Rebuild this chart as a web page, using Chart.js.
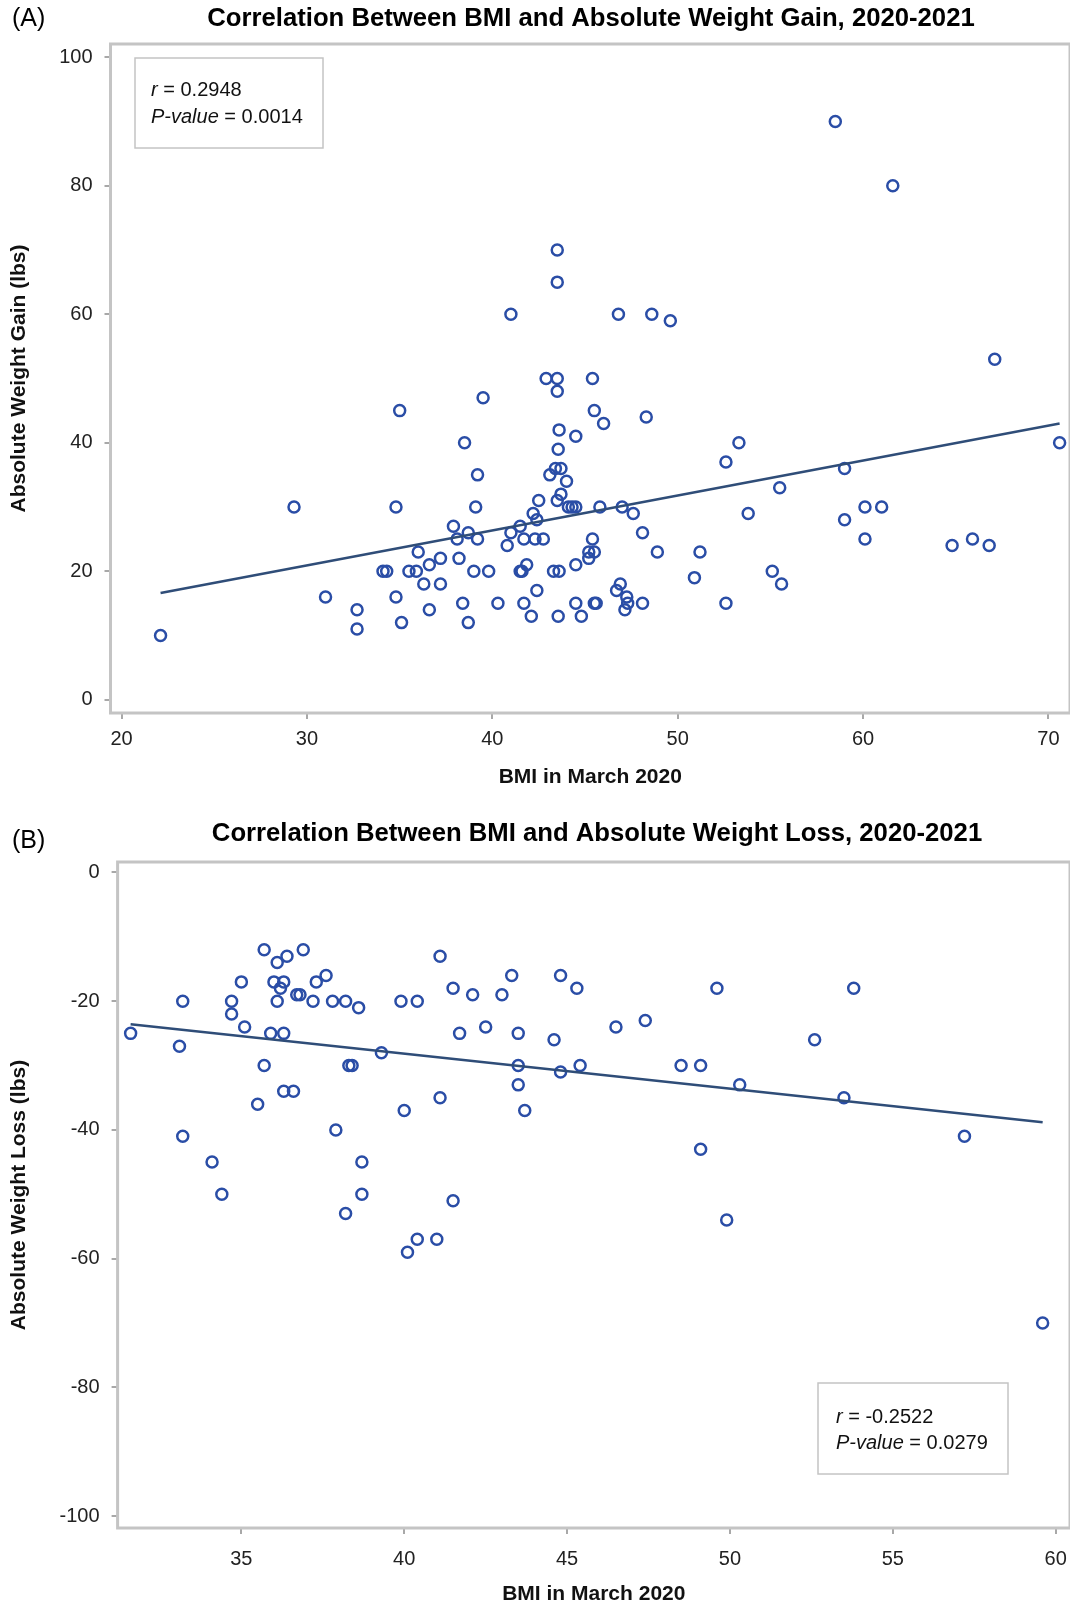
<!DOCTYPE html>
<html>
<head>
<meta charset="utf-8">
<title>BMI and absolute weight change, 2020-2021</title>
<script src="https://cdn.jsdelivr.net/npm/chart.js@4.4.1/dist/chart.umd.min.js"></script>
<style>
  html, body { margin: 0; padding: 0; background: #fff; }
  canvas { display: block; }
</style>
</head>
<body>
<canvas id="chartA" width="1070" height="800"></canvas>
<canvas id="chartB" width="1070" height="804"></canvas>
<script>
// (A) BMI vs absolute weight gain
const bmiA = [
  22.1, 29.3, 31.0, 32.7, 32.7, 34.1, 34.3, 35.0, 34.8, 34.8,
  35.1, 35.5, 36.0, 35.9, 36.3, 36.6, 36.6, 37.2, 37.2, 37.9,
  38.1, 38.2, 38.5, 38.7, 38.4, 38.7, 39.0, 39.1, 39.2, 39.2,
  39.5, 39.8, 40.3, 40.8, 41.0, 41.0, 41.5, 41.5, 41.6, 41.7,
  41.7, 41.85, 42.1, 42.2, 42.4, 42.3, 42.5, 42.4, 42.75, 42.9,
  43.1, 43.3, 43.5, 43.5, 43.4, 43.5, 43.5, 43.6, 43.55, 43.5,
  43.6, 43.55, 43.7, 43.7, 44.0, 44.1, 44.3, 44.5, 44.5, 44.5,
  44.5, 44.8, 45.2, 45.2, 45.5, 45.4, 45.4, 45.5, 45.5, 45.6,
  45.8, 46.0, 46.7, 46.8, 46.9, 47.0, 47.25, 47.15, 47.3, 47.6,
  48.1, 48.1, 48.3, 48.6, 48.9, 49.6, 50.9, 51.2, 52.6, 52.6,
  53.3, 53.8, 55.1, 55.5, 55.6, 58.5, 59.0, 59.0, 60.1, 60.1,
  61.0, 61.6, 64.8, 65.9, 66.8, 67.1, 70.6
];
const gainA = [
  10, 30, 16, 14, 11, 20, 20, 45, 30, 16,
  12, 20, 23, 20, 18, 21, 14, 22, 18, 27,
  25, 22, 40, 26, 15, 12, 20, 30, 35, 25,
  47, 20, 15, 24, 26, 60, 27, 20, 20, 25,
  15, 21, 13, 29, 28, 25, 31, 17, 25, 50,
  35, 20, 65, 70, 36, 50, 48, 42, 39, 31,
  20, 13, 32, 36, 34, 30, 30, 30, 41, 21,
  15, 13, 22, 23, 23, 25, 50, 45, 15, 15,
  30, 43, 17, 60, 18, 30, 16, 14, 15, 29,
  26, 15, 44, 60, 23, 59, 19, 23, 37, 15,
  40, 29, 20, 33, 18, 90, 36, 28, 30, 25,
  30, 80, 24, 25, 24, 53, 40
];
const fitBmiA = [22.1, 70.6];
const fitGainA = [16.6, 43.0];
const xTicksA = [20, 30, 40, 50, 60, 70];
const yTicksA = [0, 20, 40, 60, 80, 100];
const statsA = ['0.2948', '0.0014'];

// (B) BMI vs absolute weight loss
const bmiB = [
  31.6, 33.1, 33.2, 33.2, 34.1, 34.4, 34.7, 34.7, 35.0, 35.1,
  35.5, 35.7, 35.7, 35.9, 36.0, 36.1, 36.1, 36.2, 36.3, 36.3,
  36.3, 36.4, 36.6, 36.7, 36.8, 36.9, 37.2, 37.3, 37.6, 37.8,
  37.9, 38.2, 38.2, 38.3, 38.4, 38.6, 38.7, 38.7, 39.3, 39.9,
  40.0, 40.1, 40.4, 40.4, 41.0, 41.1, 41.1, 41.5, 41.5, 41.7,
  42.1, 42.5, 43.0, 43.3, 43.5, 43.5, 43.5, 43.7, 44.6, 44.8,
  44.8, 45.3, 45.4, 46.5, 47.4, 48.5, 49.1, 49.1, 49.6, 49.9,
  50.3, 52.6, 53.5, 53.8, 57.2, 59.6
];
const lossB = [
  -25, -27, -20, -41, -45, -50, -20, -22, -17, -24,
  -36, -12, -30, -25, -17, -20, -14, -18, -17, -25,
  -34, -13, -34, -19, -19, -12, -20, -17, -16, -20,
  -40, -20, -53, -30, -30, -21, -45, -50, -28, -20,
  -37, -59, -20, -57, -57, -13, -35, -18, -51, -25,
  -19, -24, -19, -16, -25, -30, -33, -37, -26, -16,
  -31, -18, -30, -24, -23, -30, -30, -43, -18, -54,
  -33, -26, -35, -18, -41, -70
];
const fitBmiB = [31.6, 59.6];
const fitLossB = [-23.6, -38.8];
const xTicksB = [35, 40, 45, 50, 55, 60];
const yTicksB = [-100, -80, -60, -40, -20, 0];
const statsB = ['-0.2522', '0.0279'];

const FONT = "'Liberation Sans', Arial, sans-serif";
const MARKER = '#2a4da6';
const FIT = '#2f4d78';
const FRAME = '#c4c4c4';

// frame around the plot, title, panel letter and the r / p box
const panelDecor = {
  id: 'panelDecor',
  beforeDatasetsDraw(chart) {
    const {ctx, chartArea: a} = chart;
    ctx.save();
    ctx.strokeStyle = FRAME;
    ctx.lineWidth = 3;
    ctx.strokeRect(a.left, a.top, a.right - a.left, a.bottom - a.top);
    ctx.restore();
  },
  afterDraw(chart, args, o) {
    const ctx = chart.ctx;
    ctx.save();
    ctx.textBaseline = 'middle';
    ctx.fillStyle = '#000';
    ctx.font = `bold 25.7px ${FONT}`;
    ctx.textAlign = 'center';
    ctx.fillText(o.title, o.titleX, o.titleY);
    ctx.font = `25px ${FONT}`;
    ctx.textAlign = 'left';
    ctx.fillText(o.tag, o.tagX, o.tagY);

    const b = o.box;
    ctx.fillStyle = '#fff';
    ctx.fillRect(b.x, b.y, b.w, b.h);
    ctx.strokeStyle = FRAME;
    ctx.lineWidth = 1.5;
    ctx.strokeRect(b.x, b.y, b.w, b.h);
    ctx.fillStyle = '#111';
    const lines = [['r', ' = ' + o.stats[0]], ['P-value', ' = ' + o.stats[1]]];
    lines.forEach(([ital, rest], i) => {
      ctx.font = `italic 20px ${FONT}`;
      ctx.fillText(ital, b.textX, b.textY[i]);
      const w = ctx.measureText(ital).width;
      ctx.font = `20px ${FONT}`;
      ctx.fillText(rest, b.textX + w, b.textY[i]);
    });
    ctx.restore();
  }
};

function axes(o) {
  return {
    x: {
      type: 'linear',
      min: o.xMin,
      max: o.xMax,
      afterBuildTicks: s => { s.ticks = o.xTicks.map(v => ({ value: v })); },
      afterFit: s => { s.height = o.xAxisH; s.paddingLeft = 0; s.paddingRight = 0; },
      border: { display: false },
      grid: { drawOnChartArea: false, tickLength: 6, color: '#a8a8a8', lineWidth: 2 },
      ticks: { autoSkip: false, maxRotation: 0, padding: o.xTickPad, color: '#222', font: { family: FONT, size: 20 } },
      title: {
        display: true, text: 'BMI in March 2020', color: '#111',
        font: { family: FONT, size: 21, weight: 'bold' },
        padding: { top: 0, bottom: o.xTitlePad }
      }
    },
    y: {
      type: 'linear',
      min: o.yMin,
      max: o.yMax,
      afterBuildTicks: s => { s.ticks = o.yTicks.map(v => ({ value: v })); },
      afterFit: s => { s.width = o.yAxisW; s.paddingTop = 0; s.paddingBottom = 0; },
      border: { display: false },
      grid: { drawOnChartArea: false, tickLength: 6, color: '#a8a8a8', lineWidth: 2 },
      ticks: { autoSkip: false, padding: 12, color: '#222', font: { family: FONT, size: 20 } },
      title: {
        display: true, text: o.yTitle, color: '#111',
        font: { family: FONT, size: 21, weight: 'bold' },
        padding: { top: 7, bottom: 0 }
      }
    }
  };
}

function makePanel(id, p) {
  return new Chart(document.getElementById(id), {
    type: 'scatter',
    data: {
      datasets: [
        {
          type: 'line',
          data: p.fitX.map((x, i) => ({ x, y: p.fitY[i] })),
          borderColor: FIT,
          borderWidth: 2.5,
          pointRadius: 0,
          fill: false,
          order: 0
        },
        {
          data: p.xs.map((x, i) => ({ x, y: p.ys[i] })),
          pointStyle: 'circle',
          pointRadius: 5.5,
          borderWidth: 2.5,
          borderColor: MARKER,
          backgroundColor: 'rgba(0,0,0,0)',
          order: 1
        }
      ]
    },
    options: {
      responsive: false,
      animation: false,
      devicePixelRatio: 1,
      layout: { autoPadding: false, padding: { top: p.top, left: 0, right: 0, bottom: 0 } },
      plugins: {
        legend: { display: false },
        tooltip: { enabled: false },
        panelDecor: p.decor
      },
      scales: axes(p.axes)
    },
    plugins: [panelDecor]
  });
}

makePanel('chartA', {
  xs: bmiA, ys: gainA, fitX: fitBmiA, fitY: fitGainA, top: 44,
  axes: {
    xMin: 19.4, xMax: 71.16, yMin: -2.07, yMax: 102.07,
    xTicks: xTicksA, yTicks: yTicksA,
    xAxisH: 87, yAxisW: 110.5, xTickPad: 8, xTitlePad: 10,
    yTitle: 'Absolute Weight Gain (lbs)'
  },
  decor: {
    title: 'Correlation Between BMI and Absolute Weight Gain, 2020-2021',
    titleX: 591, titleY: 19, tag: '(A)', tagX: 12, tagY: 19,
    stats: statsA,
    box: { x: 135, y: 58, w: 188, h: 90, textX: 151, textY: [90, 117.5] }
  }
});

makePanel('chartB', {
  xs: bmiB, ys: lossB, fitX: fitBmiB, fitY: fitLossB, top: 62,
  axes: {
    xMin: 31.2, xMax: 60.44, yMin: -101.86, yMax: 1.63,
    xTicks: xTicksB, yTicks: yTicksB,
    xAxisH: 76, yAxisW: 117.6, xTickPad: 13, xTitlePad: -3,
    yTitle: 'Absolute Weight Loss (lbs)'
  },
  decor: {
    title: 'Correlation Between BMI and Absolute Weight Loss, 2020-2021',
    titleX: 597, titleY: 34, tag: '(B)', tagX: 12, tagY: 41,
    stats: statsB,
    box: { x: 818, y: 583, w: 190, h: 91, textX: 836, textY: [617, 643] }
  }
});
</script>
</body>
</html>
